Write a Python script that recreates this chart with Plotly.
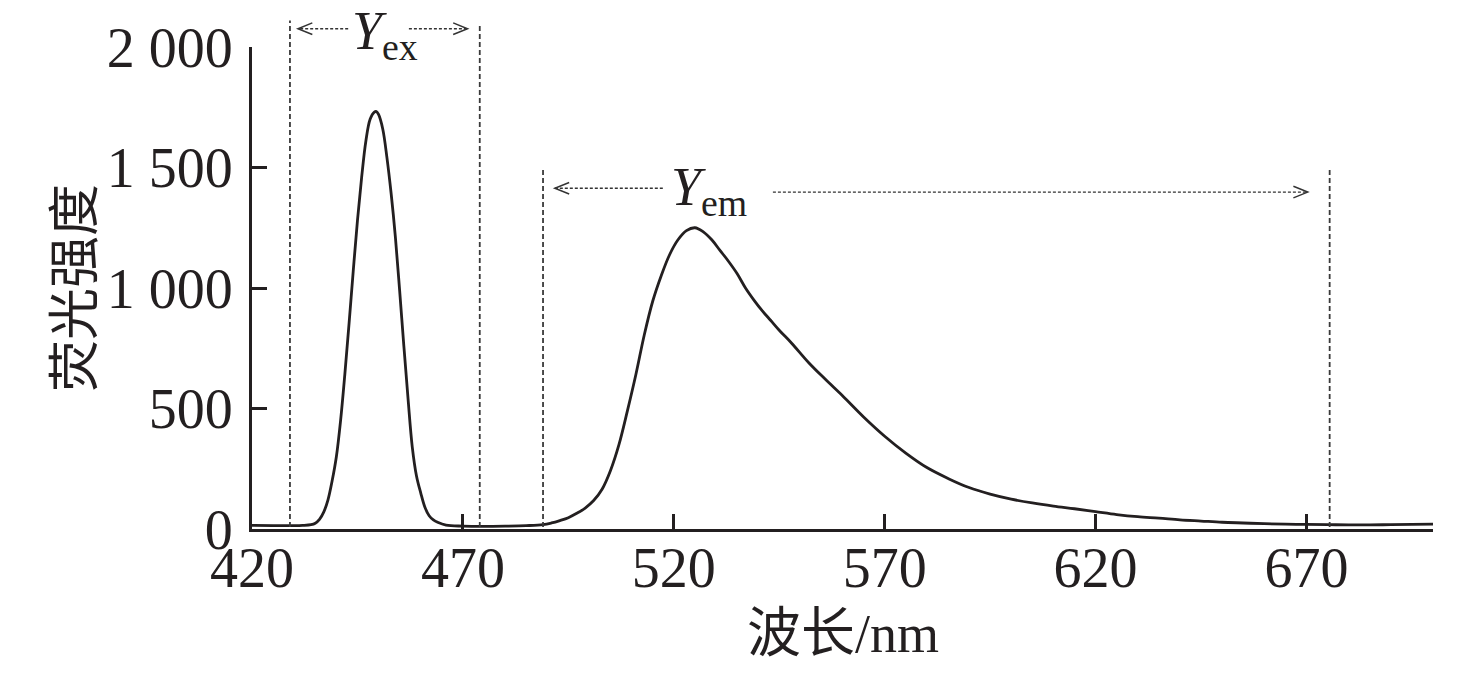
import plotly.graph_objects as go

# spectrum (wavelength nm, fluorescence intensity)
wavelength = [420, 425, 430, 432, 434, 435, 436, 437, 438, 439, 440, 441, 442, 443, 444,
              445, 446, 447, 448, 449, 449.5, 450, 451, 452, 453, 454, 455, 456, 457, 458,
              459, 460, 461, 462, 463, 464, 466, 470, 475, 480, 485, 489, 491, 493, 495,
              497, 499, 501, 503, 505, 507, 509, 511, 513, 515, 517, 519, 521, 523, 525,
              527, 529, 531, 533, 535, 537, 539, 541, 543, 545, 548, 552, 556, 560, 565,
              570, 575, 580, 585, 590, 595, 600, 605, 610, 615, 620, 625, 630, 635, 640,
              645, 650, 655, 660, 665, 670, 675, 680, 685, 690, 695, 700]
intensity = [15, 14, 14, 15, 18, 24, 40, 70, 120, 200, 300, 450, 640, 850, 1070,
             1280, 1460, 1610, 1700, 1730, 1732, 1720, 1660, 1540, 1390, 1210, 990, 760, 540, 340,
             220, 150, 90, 55, 38, 28, 16, 12, 11, 12, 14, 18, 25, 35, 47,
             65, 87, 118, 165, 243, 350, 490, 640, 805, 945, 1050, 1138, 1200, 1238, 1250,
             1233, 1200, 1155, 1110, 1060, 1000, 950, 905, 865, 825, 770, 690, 620, 553, 465,
             385, 315, 255, 210, 172, 145, 124, 108, 95, 84, 72, 60, 51, 45, 38,
             33, 28, 25, 22, 20, 19, 18, 17, 17, 18, 19, 20]

x_ticks = [420, 470, 520, 570, 620, 670]
y_ticks = [0, 500, 1000, 1500, 2000]
y_ticktext = ["0", "500", "1 000", "1 500", "2 000"]

# boundaries of the excitation / emission ranges
ex_bounds = [429, 474]
em_bounds = [489, 675.5]

INK = "#231f20"
SERIF = "Liberation Serif, Times New Roman, serif"
MIXED = "Liberation Serif, Noto Sans CJK SC, serif"

fig = go.Figure()
fig.add_trace(go.Scatter(x=wavelength, y=intensity, mode="lines",
                         line=dict(color=INK, width=2.8, shape="spline", smoothing=1.0),
                         showlegend=False, hoverinfo="skip"))

# dashed boundary lines (x in data, y in paper so they can rise above the frame)
dash = dict(color="#3a3a3a", width=1.8, dash="5px,3px")
for xv, top in [(ex_bounds[0], 1.055), (ex_bounds[1], 1.049),
                (em_bounds[0], 0.745), (em_bounds[1], 0.747)]:
    fig.add_shape(type="line", xref="x", yref="paper", x0=xv, x1=xv, y0=0.004, y1=top, line=dash)

# dotted arrows
dot = dict(color="#333", width=1.4, dash="3px,2px")
head = dict(color="#333", width=1.5)
hx, hy = 3.4, 0.012


def arrow(x_from, x_tip, yv):
    fig.add_shape(type="line", xref="x", yref="paper", x0=x_from, x1=x_tip, y0=yv, y1=yv, line=dot)
    s = 1 if x_tip > x_from else -1
    fig.add_shape(type="path", xref="x", yref="paper", line=head,
                  path=f"M {x_tip - s*hx},{yv + hy} L {x_tip},{yv} L {x_tip - s*hx},{yv - hy}")


arrow(442.8, 430.9, 1.038)
arrow(457.2, 471.1, 1.038)
arrow(517.4, 491.8, 0.707)
arrow(543.5, 670.3, 0.699)

fig.add_annotation(x=443.2, y=1.025, xref="x", yref="paper", xanchor="left", yanchor="middle",
                   text="<i>Y</i><sub>ex</sub>", showarrow=False,
                   font=dict(family=SERIF, size=54, color=INK))
fig.add_annotation(x=518.8, y=0.702, xref="x", yref="paper", xanchor="left", yanchor="middle",
                   text="<i>Y</i><sub>em</sub>", showarrow=False,
                   font=dict(family=SERIF, size=54, color=INK))

# axis titles
fig.add_annotation(x=(70 - 252) / 1181, y=0.5, xref="paper", yref="paper", textangle=-90,
                   text="荧光强度", showarrow=False, xanchor="center", yanchor="middle",
                   font=dict(family="Noto Sans CJK SC", size=52, color=INK))
fig.add_annotation(x=0.5, y=(529 - 634) / 482, xref="paper", yref="paper",
                   text="波长/nm", showarrow=False, xanchor="center", yanchor="middle",
                   font=dict(family=MIXED, size=54, color=INK))

axis_common = dict(showline=True, linewidth=3, linecolor=INK, ticks="inside", ticklen=15,
                   tickwidth=3, tickcolor=INK, showgrid=False, zeroline=False,
                   tickfont=dict(family=SERIF, size=56, color=INK))
fig.update_xaxes(range=[420, 700], tickvals=x_ticks, ticklabelstandoff=-12, **axis_common)
fig.update_yaxes(range=[0, 2000], tickvals=y_ticks, ticktext=y_ticktext,
                 ticklabelstandoff=5, **axis_common)

fig.update_layout(width=1476, height=675, margin=dict(l=252, r=43, t=47, b=146),
                  paper_bgcolor="white", plot_bgcolor="white", showlegend=False)

fig.write_html("out.html", config={"displayModeBar": False},
               post_script="document.body.style.margin='0';")
